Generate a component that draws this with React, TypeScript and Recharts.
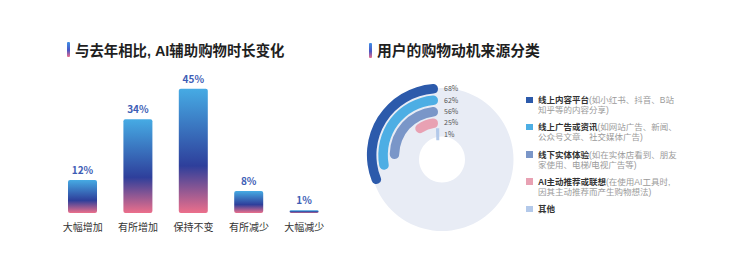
import React from 'react';
import {
  BarChart, Bar, XAxis, YAxis, LabelList,
  RadialBarChart, RadialBar, PolarAngleAxis, PieChart, Pie, Cell,
} from 'recharts';

// 与去年相比, AI辅助购物时长变化
const changeCategories = ['大幅增加', '有所增加', '保持不变', '有所减少', '大幅减少'];
const changeValues = [12, 34, 45, 8, 1];

// 用户的购物动机来源分类
const sourceNames = ['线上内容平台', '线上广告或资讯', '线下实体体验', 'AI主动推荐或联想', '其他'];
const sourceNotes = [
  ['(如小红书、抖音、B站', '知乎等的内容分享)'],
  ['(如网站广告、新闻、', '公众号文章、社交媒体广告)'],
  ['(如在实体店看到、朋友', '家使用、电梯/电视广告等)'],
  ['(在使用AI工具时,', '因其主动推荐而产生购物想法)'],
  [],
];
const sourceValues = [68, 62, 56, 25, 1];
const sourceColors = ['#2c5aab', '#4daee4', '#7a96c8', '#e8a1b3', '#b3c9ea'];

const FONT = '"Noto Sans CJK SC", "Noto Sans", sans-serif';
// latin font first keeps the line boxes small, CJK glyphs fall back
const LEGEND_FONT = '"Liberation Sans", "Noto Sans CJK SC", sans-serif';

const barData = changeCategories.map((name, i) => ({ name, value: changeValues[i] }));
// innermost ring first
const radialData = sourceNames.map((name, i) => ({ name, value: sourceValues[i], color: i })).reverse();

const TitleBar = ({ x, y }: { x: number; y: number }) => (
  <div style={{
    position: 'absolute', left: x, top: y, width: 3, height: 15, borderRadius: 1,
    background: 'linear-gradient(to bottom, #3f8fe6, #4a56c4 55%, #ea6f8d)',
  }} />
);

const Title = ({ x, y, size, children }: { x: number; y: number; size: number; children: React.ReactNode }) => (
  <div style={{
    position: 'absolute', left: x, top: y, lineHeight: '20px', fontSize: size,
    fontWeight: 700, color: '#1f1f1f', fontFamily: FONT, whiteSpace: 'nowrap',
  }}>{children}</div>
);

const renderSourceLabel = (props: any) => {
  const { viewBox, value } = props;
  if (!viewBox) return null;
  const r = (viewBox.innerRadius + viewBox.outerRadius) / 2;
  return (
    <text x={viewBox.cx + 6} y={viewBox.cy - r} dy="0.35em" fontSize={7} fill="#555" fontFamily={FONT}>
      {value}%
    </text>
  );
};

export default function App() {
  return (
    <div style={{ position: 'absolute', left: 0, top: 0, width: 740, height: 265, background: '#fff', fontFamily: FONT }}>
      <TitleBar x={67} y={42} />
      <Title x={75} y={39.5} size={14.4}>
        与去年相比<span style={{ fontFamily: '"Liberation Sans", sans-serif' }}>, AI</span>辅助购物时长变化
      </Title>

      <div style={{ position: 'absolute', left: 40, top: 60 }}>
        <BarChart width={310} height={190} data={barData} margin={{ top: 15, right: 18, left: 15, bottom: 7 }}>
          <defs>
            <linearGradient id="changeGrad" x1="0" y1="0" x2="0" y2="1">
              <stop offset="0%" stopColor="#46abe4" />
              <stop offset="62%" stopColor="#2e3f9b" />
              <stop offset="100%" stopColor="#ec6f8b" />
            </linearGradient>
          </defs>
          <XAxis dataKey="name" axisLine={false} tickLine={false} interval={0} height={30} tickMargin={5}
            tick={{ fill: '#333', fontSize: 10, fontFamily: FONT }} />
          <YAxis hide domain={[0, 50]} />
          <Bar dataKey="value" fill="url(#changeGrad)" barSize={29} radius={[2, 2, 2, 2]} isAnimationActive={false}>
            <LabelList dataKey="value" position="top" offset={6} formatter={(v: any) => `${v}%`}
              fill="#3d5db5" fontSize={10} fontWeight={600} fontFamily={FONT} />
          </Bar>
        </BarChart>
      </div>

      <TitleBar x={369} y={43} />
      <Title x={377} y={39.5} size={14.8}>用户的购物动机来源分类</Title>

      <div style={{ position: 'absolute', left: 360, top: 75 }}>
        <PieChart width={160} height={160}>
          <Pie data={[{ value: 1 }]} dataKey="value" cx={77} cy={79.5} innerRadius={23} outerRadius={71.5}
            startAngle={0} endAngle={360} stroke="none" fill="#e8ecf5" isAnimationActive={false} />
        </PieChart>
      </div>
      <div style={{ position: 'absolute', left: 360, top: 75 }}>
        <RadialBarChart width={160} height={160} cx={78} cy={80} innerRadius={15} outerRadius={72}
          startAngle={90} endAngle={260} data={radialData} barSize={9.5}>
          <PolarAngleAxis type="number" domain={[0, 100]} tick={false} axisLine={false} />
          <RadialBar dataKey="value" cornerRadius={5} isAnimationActive={false}>
            {radialData.map((d) => (
              <Cell key={d.name} fill={sourceColors[d.color]}
                stroke={d.value < 5 ? sourceColors[d.color] : 'none'} strokeWidth={d.value < 5 ? 2.5 : 0} />
            ))}
            <LabelList dataKey="value" content={renderSourceLabel} />
          </RadialBar>
        </RadialBarChart>
      </div>

      <div style={{ position: 'absolute', left: 526, top: 95, fontFamily: LEGEND_FONT, fontSize: 8.5, lineHeight: '10px' }}>
        {sourceNames.map((name, i) => (
          <div key={name} style={{ position: 'relative', paddingLeft: 12, marginBottom: 7.3, whiteSpace: 'nowrap' }}>
            <div style={{ position: 'absolute', left: 0, top: 1.5, width: 6.5, height: 6.5, background: sourceColors[i] }} />
            <span style={{ color: '#333', fontWeight: 700 }}>{name}</span>
            <span style={{ color: '#9a9a9a' }}>{sourceNotes[i][0]}</span>
            {sourceNotes[i][1] && <div style={{ color: '#9a9a9a' }}>{sourceNotes[i][1]}</div>}
          </div>
        ))}
      </div>
    </div>
  );
}
